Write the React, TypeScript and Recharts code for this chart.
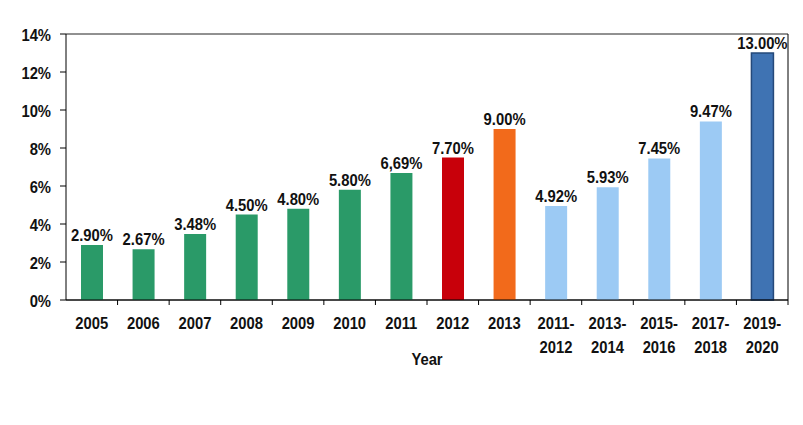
import React from "react";
import { BarChart, Bar, XAxis, YAxis, CartesianGrid, Cell, LabelList, Label } from "recharts";

const categories = ["2005", "2006", "2007", "2008", "2009", "2010", "2011", "2012", "2013", "2011-\n2012", "2013-\n2014", "2015-\n2016", "2017-\n2018", "2019-\n2020"];
const values = [2.9, 2.67, 3.48, 4.5, 4.8, 5.8, 6.69, 7.5, 9.0, 4.95, 5.93, 7.45, 9.4, 13.0];
const valueLabels = ["2.90%", "2.67%", "3.48%", "4.50%", "4.80%", "5.80%", "6,69%", "7.70%", "9.00%", "4.92%", "5.93%", "7.45%", "9.47%", "13.00%"];
const yTicks = [0, 2, 4, 6, 8, 10, 12, 14];

const GREEN = "#2a9a68";
const RED = "#c8000a";
const ORANGE = "#f26a1b";
const LIGHT = "#9ccaf4";
const DARK = "#3f73b3";
const barColors = [GREEN, GREEN, GREEN, GREEN, GREEN, GREEN, GREEN, RED, ORANGE, LIGHT, LIGHT, LIGHT, LIGHT, DARK];
const barStrokes = barColors.map((c) => (c === DARK ? "#25497a" : "none"));

const data = categories.map((c, i) => ({ name: c, value: values[i], label: valueLabels[i] }));

const W = 803;
const H = 425;
const M = { top: 34, right: 0, left: 0, bottom: 55 };
const Y_W = 66;
const Y_R = 15;
const FONT = "'Liberation Sans', Arial, sans-serif";
const FS = 17;
const SX = 0.87;

const SText = ({ x, y, anchor = "middle", children }: any) => (
  <text
    transform={`translate(${x},${y}) scale(${SX},1)`}
    textAnchor={anchor}
    fontFamily={FONT}
    fontWeight="bold"
    fontSize={FS}
    fill="#111"
  >
    {children}
  </text>
);

const XTick = (props: any) => {
  const { x, y, payload } = props;
  const band = (W - M.left - M.right - Y_W - Y_R) / categories.length;
  const lines = String(payload.value).split("\n");
  return (
    <g>
      <line x1={x + band / 2} x2={x + band / 2} y1={y - 8} y2={y - 3} stroke="#000" strokeWidth={1} />
      {lines.map((l, i) => (
        <SText key={i} x={x} y={y + 21 + i * 24}>
          {l}
        </SText>
      ))}
    </g>
  );
};

const YTick = (props: any) => {
  const { x, y, payload } = props;
  return (
    <SText x={x} y={y + 7} anchor="end">
      {`${payload.value}%`}
    </SText>
  );
};

const BarLabel = (props: any) => {
  const { x, y, width, value } = props;
  return (
    <SText x={x + width / 2} y={y - 4}>
      {value}
    </SText>
  );
};

const YearLabel = (props: any) => {
  const vb = props.viewBox;
  return (
    <SText x={vb.x + vb.width / 2} y={365}>
      Year
    </SText>
  );
};

export default function App() {
  return (
    <div style={{ position: "absolute", left: 0, top: 0, background: "#fff" }}>
      <BarChart width={W} height={H} data={data} margin={M}>
        <CartesianGrid vertical={false} stroke="#222" strokeWidth={1} />
        <XAxis dataKey="name" interval={0} tick={<XTick />} tickLine={false} axisLine={{ stroke: "#000" }} height={70}>
          <Label content={<YearLabel />} />
        </XAxis>
        <YAxis
          yAxisId="l"
          domain={[0, 14]}
          ticks={yTicks}
          width={Y_W}
          tickSize={6}
          tickMargin={9}
          axisLine={{ stroke: "#000" }}
          tickLine={{ stroke: "#000" }}
          tick={<YTick />}
        />
        <YAxis yAxisId="r" orientation="right" width={Y_R} tick={false} tickLine={false} axisLine={{ stroke: "#000" }} />
        <Bar yAxisId="l" dataKey="value" barSize={22} isAnimationActive={false}>
          {data.map((d, i) => (
            <Cell key={i} fill={barColors[i]} stroke={barStrokes[i]} strokeWidth={1.5} />
          ))}
          <LabelList dataKey="label" content={<BarLabel />} />
        </Bar>
      </BarChart>
    </div>
  );
}
